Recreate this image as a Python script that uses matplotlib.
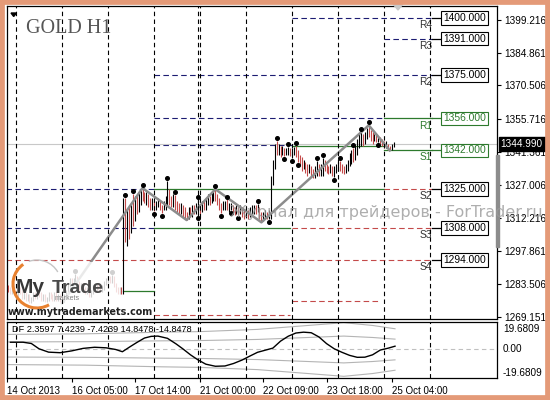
import numpy as np
import matplotlib.pyplot as plt
from matplotlib.patches import Rectangle, Arc, Polygon

plt.rcParams['font.family'] = ['Liberation Sans', 'DejaVu Sans']

# H1 bars of GOLD, hour 0 = 21 Oct 2013 00:00 (weekend skipped)
first_hour = -100
first_open = 1282
closes = [
    1281, 1280, 1282, 1280, 1279, 1281, 1280, 1278, 1279, 1277, 1278, 1276,
    1277, 1279, 1278, 1280, 1279, 1277, 1278, 1276, 1277, 1279, 1278, 1277,
    1279, 1277, 1278, 1277, 1276, 1278, 1280, 1283, 1285, 1284, 1285, 1286,
    1284, 1282, 1283, 1281, 1280, 1281, 1279, 1280, 1282, 1281, 1283, 1282,
    1281, 1282, 1284, 1285, 1286, 1285, 1286, 1283, 1281, 1280, 1281, 1280,
    1316, 1305, 1312, 1308, 1316, 1313, 1319, 1317, 1322, 1324, 1323, 1321,
    1322, 1320, 1318, 1319, 1317, 1318, 1319, 1317, 1316, 1318, 1320, 1322,
    1320, 1319, 1320, 1318, 1317, 1316, 1317, 1315, 1314, 1313, 1315, 1314,
    1316, 1315, 1317, 1318, 1316, 1318, 1317, 1320, 1321, 1320, 1322, 1323,
    1322, 1320, 1318, 1316, 1318, 1319, 1317, 1317, 1318, 1316, 1315, 1316,
    1315, 1316, 1315, 1314, 1315, 1314, 1315, 1316, 1317, 1316, 1317, 1314,
    1312, 1313, 1314, 1313, 1314, 1329, 1336, 1344, 1342, 1343, 1341, 1342,
    1340, 1341, 1342, 1340, 1341, 1342, 1340, 1339, 1337, 1335, 1336, 1334,
    1333, 1334, 1332, 1331, 1332, 1334, 1333, 1335, 1337, 1335, 1334, 1333,
    1334, 1332, 1333, 1335, 1336, 1335, 1334, 1333, 1335, 1337, 1339, 1341,
    1340, 1342, 1345, 1347, 1348, 1346, 1349, 1351, 1350, 1348, 1347, 1348,
    1346, 1347, 1346, 1345, 1344, 1345, 1343, 1342.5, 1344, 1344.99,
]
highs = [
    1283, 1282, 1283, 1283, 1281, 1282, 1282, 1281, 1280, 1280, 1279, 1279,
    1278, 1280, 1280, 1281, 1281, 1280, 1279, 1279, 1278, 1280, 1280, 1279,
    1280, 1280, 1279, 1279, 1278, 1279, 1281, 1284, 1286, 1286, 1286, 1288,
    1287, 1285, 1284, 1284, 1282, 1282, 1282, 1281, 1283, 1283, 1284, 1284,
    1283, 1283, 1285, 1286, 1287, 1287, 1287.5, 1287, 1284, 1282, 1282, 1282,
    1321, 1321, 1316, 1318, 1319, 1323, 1322, 1323, 1324, 1325, 1325.5, 1324,
    1324, 1323, 1321, 1321, 1320, 1320, 1321, 1320, 1318, 1320, 1322, 1328.5,
    1325, 1322, 1323, 1322.5, 1320, 1319, 1319, 1318, 1317, 1315, 1317, 1317,
    1318, 1318, 1319, 1320.5, 1318, 1320, 1320, 1321, 1323, 1322, 1324, 1324.5,
    1325, 1323, 1321, 1319, 1320, 1320, 1320.5, 1319, 1319, 1318, 1317, 1318,
    1317, 1318, 1317, 1316, 1317, 1316, 1317, 1318, 1318, 1318, 1318.5, 1317,
    1315, 1315, 1316, 1315, 1316, 1331, 1338, 1345, 1346, 1345, 1344, 1344,
    1343, 1343, 1343.5, 1343, 1343, 1343.5, 1344, 1342, 1340, 1339, 1338, 1337,
    1336, 1336, 1335, 1334, 1335, 1337.5, 1336, 1336, 1338.5, 1338, 1336, 1335,
    1336, 1335, 1335, 1336, 1337, 1337.5, 1336, 1335, 1336, 1338, 1341, 1342,
    1343, 1344, 1347, 1349, 1350, 1349, 1350, 1352, 1353, 1351, 1350, 1349,
    1349, 1348, 1348, 1347, 1346, 1346, 1345, 1344, 1345, 1345.5,
]
lows = [
    1280, 1279, 1279, 1279, 1277.5, 1278, 1279, 1277, 1277, 1276, 1276, 1275,
    1275, 1276, 1277, 1277, 1278, 1276, 1276, 1275.5, 1275.5, 1276, 1277, 1276,
    1276, 1276, 1276, 1275.5, 1275, 1275.5, 1277, 1279, 1282, 1283, 1283, 1284,
    1283, 1281, 1281, 1280, 1279, 1279, 1278, 1278, 1279, 1280, 1280, 1281,
    1280, 1280, 1281, 1283, 1284, 1284, 1284, 1282, 1280, 1279, 1279, 1279,
    1279, 1302, 1300, 1303, 1306, 1309, 1311, 1314, 1315, 1318, 1320, 1319,
    1318, 1317, 1316, 1316, 1315.5, 1316, 1317, 1316, 1314.5, 1316, 1316, 1318,
    1318, 1317, 1317, 1316, 1315, 1314, 1314, 1313, 1312, 1311.5, 1312, 1313,
    1313, 1314, 1314, 1313.5, 1314, 1315, 1316, 1316, 1318, 1318, 1319, 1320,
    1320, 1318, 1316, 1314.5, 1316, 1316, 1316, 1315, 1316, 1314, 1313.5, 1314,
    1313.5, 1314, 1313, 1312, 1313, 1312, 1313, 1314, 1314, 1314, 1315, 1312,
    1310.5, 1311, 1312, 1312, 1312, 1312, 1327, 1334, 1340, 1340, 1339, 1340,
    1339.5, 1340, 1340, 1339.5, 1338.5, 1340, 1339, 1337, 1335, 1333, 1334, 1332,
    1331, 1332, 1330.5, 1330, 1330, 1331, 1331, 1331, 1331, 1333, 1332, 1331.5,
    1332, 1331, 1330.5, 1332, 1333, 1333, 1332, 1331.5, 1332, 1333, 1335, 1336,
    1337, 1338, 1340, 1343, 1344, 1344, 1345, 1347, 1348, 1346, 1345, 1346,
    1345.5, 1345.5, 1345, 1344, 1343, 1343, 1342, 1342, 1342, 1343.5,
]
bid = 1344.99

up_fractals = [-65, -46, -39, -35, -30, -17, -13, -1, 8, 14, 30, 40, 46, 50,
               61, 64, 73, 80, 84, 88]
down_fractals = [-24, -20, -1, 11, 16, 20, 36, 44, 48, 51, 70, 93]

zigzag_hours = [-72, -30, -7, 8, 32, 88, 99]
zigzag_prices = [1275, 1325.5, 1311.5, 1325, 1310.5, 1353, 1342]

# pivot levels of the current day
level_names = ['R4', 'R3', 'R2', 'R1', 'S1', 'S2', 'S3', 'S4']
level_values = [1400, 1391, 1375, 1356, 1342, 1325, 1308, 1294]
# older level segments: price, from hour, to hour, kind
seg_price = [1325, 1308, 1294, 1280.4, 1375, 1356, 1344.4, 1325, 1308, 1270,
             1400, 1344, 1308, 1276, 1391, 1356, 1342, 1325]
seg_from = [-101, -101, -101, -40, -24, -24, -24, -24, -24, -24,
            48, 48, 48, 48, 96, 96, 96, 96]
seg_to = [-24, -24, 121, -24, 121, 96, 48, 96, 47, 47,
          121, 96, 121, 93, 121, 121, 121, 121]
seg_kind = ['res', 'res', 'sup', 'mid', 'res', 'res', 'res', 'mid', 'mid', 'sup',
            'res', 'mid', 'sup', 'sup', 'res', 'mid', 'mid', 'sup']

separator_hours = [-96, -72, -48, -24, -1, 0, 24, 48, 72, 96, 120]
time_tick_hours = [-100.7, -67, -34, 0, 33, 66, 100]
time_tick_labels = ['14 Oct 2013', '16 Oct 05:00', '17 Oct 14:00', '21 Oct 00:00',
                    '22 Oct 09:00', '23 Oct 18:00', '25 Oct 04:00']
price_ticks = [1399.216, 1384.861, 1370.506, 1355.716, 1341.361, 1327.006,
               1312.216, 1297.861, 1283.506, 1269.151]

# DF oscillator and its bands
df_hours = [-98.9, -92.3, -88, -84, -79, -73, -67, -61, -55, -49, -44, -40.5,
            -36.5, -33, -29, -25.5, -22, -17, -12.5, -9, -5, -1, 3, 8, 13, 17.5,
            22, 26, 30, 34, 38, 42, 46, 50, 54, 58, 62, 66, 70, 74, 78, 82, 86,
            90, 94, 98, 101.7]
df_values = [5.2, 5.2, 4.3, 0.5, -1.9, -2.3, -1.0, 0.8, 1.6, 1.2, 0.0, -1.6,
             2.0, 5.0, 8.2, 9.4, 9.6, 8.0, 4.0, 0.5, -3.8, -7.5, -10.5, -12.0,
             -11.8, -10.0, -7.5, -4.7, -2.0, -0.5, 1.0, 6.0, 9.5, 11.8, 12.4,
             12.0, 9.0, 4.2, 0.5, -2.0, -4.2, -5.6, -5.5, -3.8, -0.4, 0.9, 2.36]
band_hours = [-100.7, -60, -20, 0, 30, 60, 75, 90, 101.7]
band_outer_up = [10.8, 11.2, 12.4, 12.8, 14.4, 17.6, 19.2, 17.2, 14.85]
band_inner_up = [5.4, 5.6, 6.2, 6.4, 7.2, 8.8, 9.6, 8.6, 7.42]
band_inner_dn = [-5.4, -5.6, -6.2, -6.4, -7.2, -8.8, -9.6, -8.6, -7.42]
band_outer_dn = [-10.8, -11.2, -12.4, -12.8, -14.4, -17.6, -19.2, -17.2, -14.85]

NAVY = '#1c1c72'
GREEN = '#2d7a2d'
RED = '#c44a4a'

fig = plt.figure(figsize=(5.5, 4), dpi=100)
W, H = 550, 400


def box(x0, y0, x1, y1):
    return [x0 / W, 1 - y1 / H, (x1 - x0) / W, (y1 - y0) / H]


ax = fig.add_axes(box(7, 6, 497, 319))
ax2 = fig.add_axes(box(7, 322, 497, 378))
for a in (ax, ax2):
    a.set_xlim(-100.7, 154.9)
    for sp in a.spines.values():
        sp.set_linewidth(0.9)
    for s in separator_hours:
        a.axvline(s, color='black', lw=0.8, dashes=(4, 3), zorder=7)
ax.set_ylim(1268.15, 1405.26)
ax2.set_ylim(-20.4, 19.68)

# level lines
styles = {'res': (NAVY, (5, 3)), 'mid': (GREEN, None), 'sup': (RED, (5, 3))}
for p, h0, h1, k in zip(seg_price, seg_from, seg_to, seg_kind):
    c, d = styles[k]
    if d:
        ax.plot([h0, h1], [p, p], color=c, lw=0.8, dashes=d, zorder=2)
    else:
        ax.plot([h0, h1], [p, p], color=c, lw=0.9, zorder=2)

for name, v in zip(level_names, level_values):
    c = GREEN if name in ('R1', 'S1') else 'black'
    ax.plot([121, 126.5], [v, v], color=c, lw=0.9, zorder=5)
    ax.annotate(name, (121, v), xytext=(0, -1.5), textcoords='offset points',
                ha='right', va='top', fontsize=7.3,
                color=GREEN if c == GREEN else '#333333')
    ax.annotate(f'{v:.3f}', (126.9, v), ha='left', va='center', fontsize=7.4,
                color=c, zorder=6,
                bbox=dict(boxstyle='square,pad=0.18', fc='white', ec=c, lw=0.8))

ax.axhline(bid, color='#c8c8c8', lw=0.8, zorder=2)

# bars
hours = np.arange(first_hour, first_hour + len(closes))
closes = np.array(closes)
opens = np.r_[first_open, closes[:-1]]
cols = np.where(closes >= opens, 'black', RED)
ax.vlines(hours, lows, highs, colors=cols, lw=0.8, zorder=4)

ax.plot(zigzag_hours, zigzag_prices, color='#8c8c8c', lw=1.8, zorder=4.5)

hi_map = dict(zip(hours, highs))
lo_map = dict(zip(hours, lows))
ax.plot(up_fractals, [hi_map[h] + 1.3 for h in up_fractals], 'o', color='black',
        ms=2.6, zorder=5)
ax.plot(down_fractals, [lo_map[h] - 1.3 for h in down_fractals], 'o', color='black',
        ms=2.6, zorder=5)

# faded area under the logo
ax.add_patch(Rectangle((0.004, 0), 0.229, 0.182, transform=ax.transAxes,
                       fc='white', ec='none', alpha=0.82, zorder=6))

# axes ticks
ax.set_xticks([])
ax.yaxis.tick_right()
ax.set_yticks(price_ticks)
ax.set_yticklabels([f'{v:.3f}' for v in price_ticks])
ax.tick_params(axis='y', length=3, width=0.8, pad=2, labelsize=7.2)

ax.annotate(f'{bid:.3f}', xy=(1, bid), xycoords=('axes fraction', 'data'),
            xytext=(2.6, 0), textcoords='offset points', ha='left', va='center',
            color='white', fontsize=7.2, annotation_clip=False, zorder=8,
            bbox=dict(boxstyle='square,pad=0.2', fc='black', ec='black'))

# indicator panel
ax2.axhline(0, color='#c0c0c0', lw=0.8, dashes=(4, 3), zorder=1)
for band in (band_outer_up, band_inner_up, band_inner_dn, band_outer_dn):
    ax2.plot(band_hours, band, color='#b4b4b4', lw=0.8, zorder=2)
ax2.plot(df_hours, df_values, color='black', lw=1.0, zorder=3)
ax2.text(0.0105, 0.86, 'DF 2.3597 7.4239 -7.4239 14.8478 -14.8478',
         transform=ax2.transAxes, fontsize=6.6, va='center', ha='left')
ax2.set_yticks([])
for txt, v, off in [('19.6809', 19.6809, -4.7), ('0.00', 0, 0),
                    ('-19.6809', -19.6809, 3.1)]:
    ax2.annotate(txt, xy=(1, v), xycoords=('axes fraction', 'data'),
                 xytext=(4.3, off), textcoords='offset points', ha='left',
                 va='center', fontsize=7.2, annotation_clip=False)
ax2.set_xticks(time_tick_hours)
ax2.set_xticklabels(time_tick_labels, ha='left')
ax2.tick_params(axis='x', length=3, width=0.8, pad=2.5, labelsize=7)

# decorations in pixel space
deco = fig.add_axes([0, 0, 1, 1], zorder=10)
deco.set_xlim(0, W)
deco.set_ylim(H, 0)
deco.axis('off')
deco.patch.set_alpha(0)

deco.text(26, 33, 'GOLD H1', family='Liberation Serif', fontsize=14.5,
          color='#555555', va='baseline', ha='left')
deco.add_patch(Polygon([(11, 13), (16.5, 13), (13.7, 16.5)], color='black'))
deco.add_patch(Polygon([(393, 4), (403, 4), (398, 10)], color='#c8c8c8'))
deco.add_patch(Rectangle((495.5, 155), 3, 92, color='#8c8c8c'))

deco.text(543, 212, 'Журнал для трейдеров - ForTrader.ru', family='DejaVu Sans',
          fontsize=11.5, color='#9a9a9a', alpha=0.8, ha='right', va='center')

# logo
deco.add_patch(Arc((37, 284), 48, 48, theta1=60, theta2=235, color='#e8812f', lw=2.2))
deco.add_patch(Arc((37, 284), 48, 48, theta1=250, theta2=330, color='#c4c4c4', lw=1))
deco.text(16, 293, 'My', fontsize=15, weight='bold', color='#383838', va='baseline')
deco.text(52, 293, 'Trade', fontsize=14, weight='bold', color='#4a4a4a', va='baseline')
deco.text(55, 299, 'markets', fontsize=5, color='#808080', va='center')
deco.text(8, 312, 'www.mytrademarkets.com', family='DejaVu Sans', fontsize=6.9,
          weight='bold', color='#222222', va='center')

deco.add_patch(Rectangle((0, 0), W, H, fill=False, ec='#e49a78', lw=7))

fig.savefig('out.png', dpi=100)
